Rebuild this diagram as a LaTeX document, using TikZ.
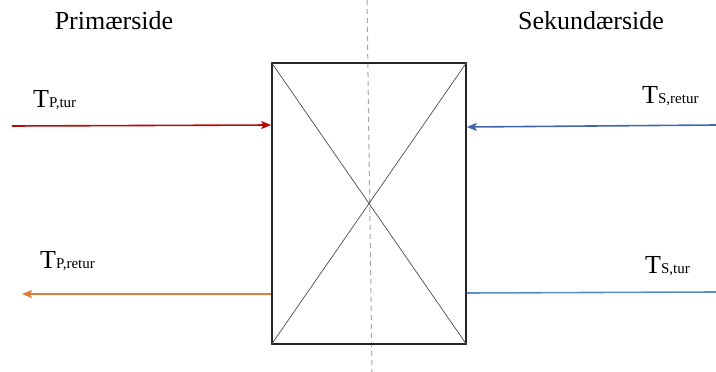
\documentclass[tikz,border=0pt]{standalone}
\usepackage{fontspec}
\setmainfont{Liberation Serif}
\usetikzlibrary{arrows.meta}
\definecolor{cred}{HTML}{B80A0A}
\definecolor{cblue}{HTML}{4068B0}
\definecolor{corange}{HTML}{E07B39}
\definecolor{clblue}{HTML}{5A8CC8}
\definecolor{cgray}{HTML}{A6A6A6}
\tikzset{
  title/.style={anchor=base, inner sep=0pt, font=\fontsize{26}{28}\selectfont},
  tlabel/.style={anchor=base west, inner sep=0pt, font=\fontsize{26}{28}\selectfont},
  flow/.style={line width=1.6pt},
  arr/.style={flow, -{Stealth[length=10pt,width=8pt,inset=2pt]}},
  hxbox/.style={draw=black!85, line width=1.5pt, minimum width=194pt, minimum height=281pt, inner sep=0pt},
  diag/.style={draw=black!70, line width=0.7pt},
  divider/.style={draw=cgray, line width=1pt, dash pattern=on 5pt off 4pt}
}
\newcommand{\subtxt}[1]{{\fontsize{15}{17}\selectfont #1}}
\begin{document}
\begin{tikzpicture}[x=1pt,y=-1pt]
\useasboundingbox (0,0) rectangle (716,372);
% divider
\coordinate (dtop) at (367,0);
\coordinate (dbot) at (372,372);
\draw[divider] (dtop) -- (dbot);
% heat exchanger
\node[hxbox] (hx) at (369,203.5) {};
\draw[diag] (hx.north west) -- (hx.south east);
\draw[diag] (hx.south west) -- (hx.north east);
% titles
\node[title] (prim) at (114,29) {Primærside};
\node[title] (sek) at (591,29) {Sekundærside};
% connector endpoints
\coordinate (ptin) at (12,126);
\coordinate (ptend) at (hx.west |- 0,125);
\coordinate (stin) at (716,125);
\coordinate (stend) at (hx.east |- 0,127);
\coordinate (prstart) at (hx.west |- 0,294);
\coordinate (prout) at (22,294);
\coordinate (ststart) at (hx.east |- 0,293);
\coordinate (stout) at (716,292);
\draw[arr, cred] (ptin) -- (ptend);
\draw[arr, cblue] (stin) -- (stend);
\draw[arr, corange] (prstart) -- (prout);
\draw[flow, clblue] (ststart) -- (stout);
% labels
\node[tlabel] (lpt) at (33,107) {T\subtxt{P,tur}};
\node[tlabel] (lsr) at (642,103) {T\subtxt{S,retur}};
\node[tlabel] (lpr) at (40,268) {T\subtxt{P,retur}};
\node[tlabel] (lst) at (645,273) {T\subtxt{S,tur}};
\end{tikzpicture}
\end{document}
